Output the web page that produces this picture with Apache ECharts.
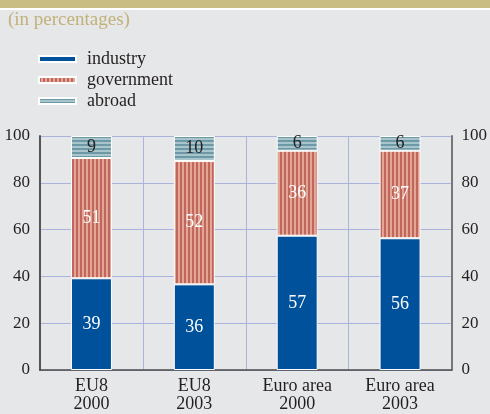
<!DOCTYPE html>
<html>
<head>
<meta charset="utf-8">
<script src="https://cdn.jsdelivr.net/npm/echarts@6/dist/echarts.min.js"></script>
<style>
  html, body { margin: 0; padding: 0; background: #e6e7e9; }
  #chart { width: 490px; height: 414px; }
</style>
</head>
<body>
<div id="chart"></div>
<script>
var categories = ['EU8\n2000', 'EU8\n2003', 'Euro area\n2000', 'Euro area\n2003'];
// bar heights as measured (shares add to 100)
var industry = [39.2, 36.6, 57.4, 56.3];
var government = [51.4, 52.7, 36.3, 37.4];
var abroad = [9.4, 10.7, 6.3, 6.3];
// numbers printed on the bars
var industryText = [39, 36, 57, 56];
var governmentText = [51, 52, 36, 37];
var abroadText = [9, 10, 6, 6];

// stripe patterns
function stripes(vertical, c1, c2, w1, w2) {
    var cv = document.createElement('canvas');
    var p = w1 + w2;
    cv.width = vertical ? p : 4;
    cv.height = vertical ? 4 : p;
    var ctx = cv.getContext('2d');
    ctx.fillStyle = c2;
    ctx.fillRect(0, 0, cv.width, cv.height);
    ctx.fillStyle = c1;
    if (vertical) ctx.fillRect(0, 0, w1, cv.height);
    else ctx.fillRect(0, 0, cv.width, w1);
    return { image: cv, repeat: 'repeat' };
}
var govPattern = stripes(true, '#c0675b', '#e2a596', 2, 2);
var abrPattern = stripes(false, '#6d98a5', '#a9c5cc', 2, 2);

var font = "'Liberation Serif', 'Times New Roman', serif";
var myChart = echarts.init(document.getElementById('chart'));

function labelFrom(arr) {
    return function (p) { return arr[p.dataIndex]; };
}

var option = {
    backgroundColor: '#e6e7e9',
    animation: false,
    textStyle: { fontFamily: font },
    graphic: [
        { type: 'rect', shape: { x: 0, y: 0, width: 490, height: 8 }, style: { fill: '#c9bd84' } },
        { type: 'rect', shape: { x: 0, y: 8, width: 490, height: 2 }, style: { fill: '#ffffff' } }
    ],
    title: {
        text: '(in percentages)',
        left: 3, top: 6,
        textStyle: { color: '#c3b17a', fontSize: 19, fontWeight: 'normal', fontFamily: font }
    },
    legend: {
        orient: 'vertical',
        left: 33, top: 45,
        itemWidth: 37, itemHeight: 6,
        itemGap: 3,
        icon: 'rect',
        textStyle: { fontSize: 18, color: '#231f20', fontFamily: font, padding: [0, 0, 0, 6] },
        data: ['industry', 'government', 'abroad']
    },
    grid: { left: 40, right: 38, top: 136, bottom: 44 },
    xAxis: {
        type: 'category',
        data: categories,
        offset: 4,
        axisLine: { lineStyle: { color: '#4a4a4a', width: 1.5 } },
        axisTick: { inside: true, length: 3, lineStyle: { color: '#4a4a4a' } },
        axisLabel: { fontSize: 18, color: '#231f20', lineHeight: 18, margin: 3, fontFamily: font },
        splitLine: { show: true, lineStyle: { color: '#aab3dc', width: 1 } }
    },
    yAxis: [
        {
            type: 'value', min: 0, max: 100, interval: 20,
            axisLine: { show: true, lineStyle: { color: '#555', width: 2 } },
            axisTick: { show: false },
            axisLabel: { fontSize: 17, color: '#231f20', margin: 10, fontFamily: font },
            splitLine: { lineStyle: { color: '#aab3dc', width: 1 } }
        },
        {
            type: 'value', min: 0, max: 100, interval: 20, position: 'right',
            axisLine: { show: true, lineStyle: { color: '#777', width: 2 } },
            axisTick: { show: false },
            axisLabel: { fontSize: 17, color: '#231f20', margin: 10, fontFamily: font },
            splitLine: { show: false }
        }
    ],
    series: [
        {
            name: 'industry', type: 'bar', stack: 'total', data: industry, barWidth: 41,
            itemStyle: { color: '#00519b', borderColor: '#ffffff', borderWidth: 1 },
            label: { show: true, position: 'inside', color: '#ffffff', fontSize: 18, fontFamily: font,
                formatter: labelFrom(industryText) }
        },
        {
            name: 'government', type: 'bar', stack: 'total', data: government,
            itemStyle: { color: govPattern, borderColor: '#ffffff', borderWidth: 1 },
            label: { show: true, position: 'inside', color: '#ffffff', fontSize: 18, fontFamily: font,
                formatter: labelFrom(governmentText) }
        },
        {
            name: 'abroad', type: 'bar', stack: 'total', data: abroad,
            itemStyle: { color: abrPattern, borderColor: '#ffffff', borderWidth: 1 },
            label: { show: true, position: 'inside', color: '#231f20', fontSize: 18, fontFamily: font,
                formatter: labelFrom(abroadText) }
        }
    ]
};
myChart.setOption(option);
</script>
</body>
</html>
